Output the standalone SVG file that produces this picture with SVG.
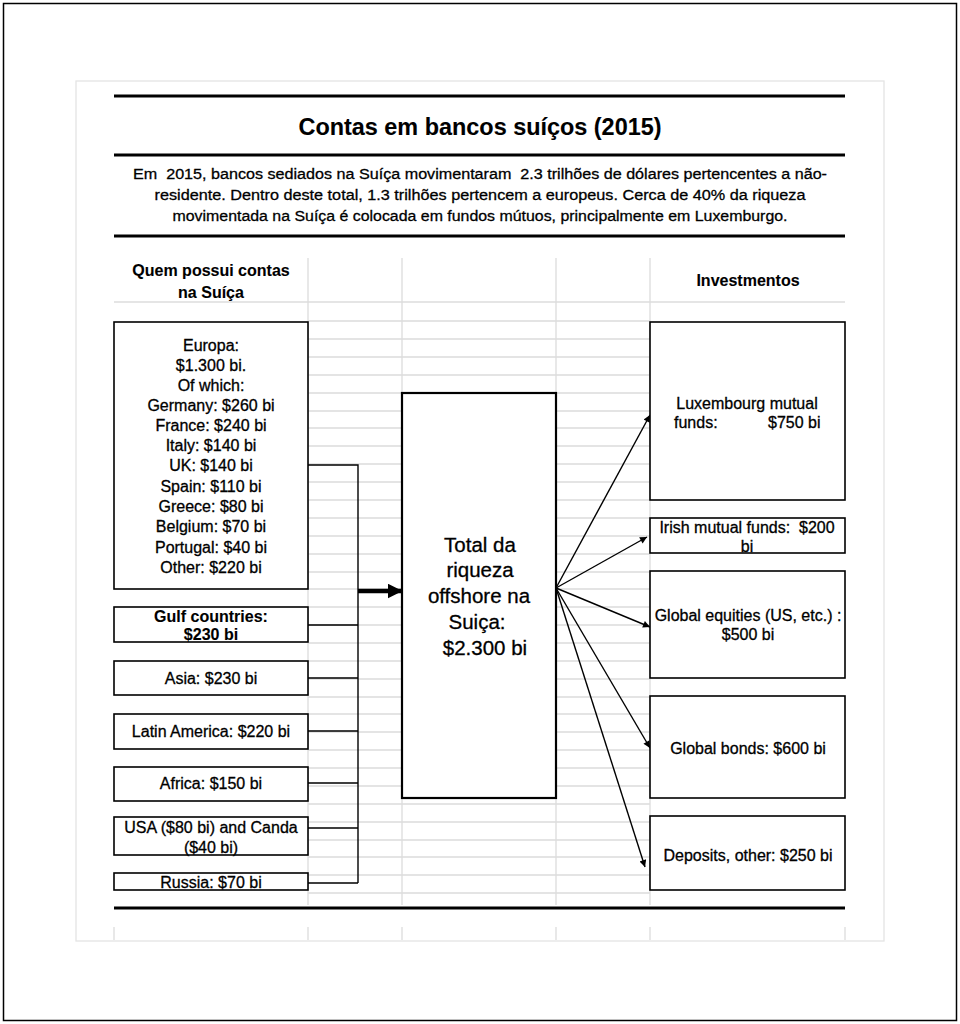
<svg xmlns="http://www.w3.org/2000/svg" width="960" height="1024" viewBox="0 0 960 1024">
<style>
  text { font-family: "Liberation Sans", Arial, sans-serif; fill: #000; stroke: #000; stroke-width: 0.3; white-space: pre; }
  .t { font-size: 16px; text-anchor: middle; }
  .b { font-weight: bold; stroke-width: 0.1; }
  .box { fill: #fff; stroke: #000; stroke-width: 1.6; }
  .grid { stroke: #dcdcdc; stroke-width: 1.3; fill: none; }
  .rule { stroke: #000; stroke-width: 3; }
  .conn { stroke: #000; stroke-width: 1.4; fill: none; }
</style>
<defs>
  <marker id="ah" viewBox="0 0 10 10" refX="10" refY="5" markerWidth="9" markerHeight="7" markerUnits="userSpaceOnUse" orient="auto">
    <path d="M0,0 L10,5 L0,10 z" fill="#000"/>
  </marker>
  <marker id="ahBig" viewBox="0 0 10 10" refX="9" refY="5" markerWidth="15" markerHeight="15" markerUnits="userSpaceOnUse" orient="auto">
    <path d="M0,0 L10,5 L0,10 z" fill="#000"/>
  </marker>
</defs>
<rect x="0" y="0" width="960" height="1024" fill="#fff"/>
<rect x="3.5" y="3.5" width="953" height="1017" fill="none" stroke="#000" stroke-width="1.5"/>
<rect x="76" y="81" width="808" height="860" fill="none" stroke="#e4e4e4" stroke-width="1.3"/>

<!-- spreadsheet grid -->
<g id="grid">
  <line class="grid" x1="114" y1="302" x2="845" y2="302"/>
  <path class="grid" d="M308,258 V905 M402,258 V905 M556,258 V905 M650,258 V905"/>
  <path class="grid" d="M114,927 V940 M308,927 V940 M402,927 V940 M556,927 V940 M650,927 V940 M845,927 V940"/>
  <path class="grid" d="M308,321 H650 M308,339 H650 M308,357 H650 M308,375 H650 M308,393 H650 M308,411 H650 M308,428 H650 M308,446 H650 M308,464 H650 M308,482 H650 M308,500 H650 M308,518 H650 M308,536 H650 M308,554 H650 M308,572 H650 M308,589 H650 M308,607 H650 M308,625 H650 M308,643 H650 M308,661 H650 M308,679 H650 M308,697 H650 M308,714 H650 M308,732 H650 M308,750 H650 M308,768 H650 M308,786 H650 M308,804 H650 M308,822 H650 M308,840 H650 M308,857 H650 M308,875 H650 M308,893 H650"/>
</g>

<!-- header -->
<g id="header">
  <line class="rule" x1="114" y1="96" x2="845" y2="96"/>
  <text x="480" y="135" class="b" font-size="23" text-anchor="middle" textLength="363" lengthAdjust="spacingAndGlyphs">Contas em bancos suíços (2015)</text>
  <line class="rule" x1="114" y1="155" x2="845" y2="155"/>
  <text x="480" y="179" font-size="15.5" text-anchor="middle" textLength="694" lengthAdjust="spacingAndGlyphs">Em  2015, bancos sediados na Suíça movimentaram  2.3 trilhões de dólares pertencentes a não-</text>
  <text x="480" y="200" font-size="15.5" text-anchor="middle" textLength="651" lengthAdjust="spacingAndGlyphs">residente. Dentro deste total, 1.3 trilhões pertencem a europeus. Cerca de 40% da riqueza</text>
  <text x="480" y="221" font-size="15.5" text-anchor="middle" textLength="615" lengthAdjust="spacingAndGlyphs">movimentada na Suíça é colocada em fundos mútuos, principalmente em Luxemburgo.</text>
  <line class="rule" x1="114" y1="236" x2="845" y2="236"/>
  <text class="t b" x="211" y="276">Quem possui contas</text>
  <text class="t b" x="211" y="298">na Suíça</text>
  <text class="t b" x="748" y="286">Investmentos</text>
  <line class="rule" x1="114" y1="908" x2="845" y2="908"/>
</g>

<!-- connectors -->
<g id="connectors">
  <path class="conn" d="M308,465 H358 V883 M308,625 H358 M308,678 H358 M308,731 H358 M308,783 H358 M308,828 H358 M308,883 H358"/>
  <line x1="358" y1="591" x2="401" y2="591" stroke="#000" stroke-width="4.5" marker-end="url(#ahBig)"/>
  <line class="conn" x1="556" y1="588" x2="650" y2="415" marker-end="url(#ah)"/>
  <line class="conn" x1="556" y1="588" x2="647" y2="537" marker-end="url(#ah)"/>
  <line class="conn" x1="556" y1="588" x2="650" y2="627" marker-end="url(#ah)"/>
  <line class="conn" x1="556" y1="588" x2="650" y2="748" marker-end="url(#ah)"/>
  <line class="conn" x1="556" y1="588" x2="645" y2="867" marker-end="url(#ah)"/>
</g>

<!-- left nodes -->
<g id="europa">
  <rect class="box" x="114" y="322" width="194" height="267"/>
  <text class="t" x="211" y="351">Europa:</text>
  <text class="t" x="211" y="371">$1.300 bi.</text>
  <text class="t" x="211" y="391">Of which:</text>
  <text class="t" x="211" y="411">Germany: $260 bi</text>
  <text class="t" x="211" y="431">France: $240 bi</text>
  <text class="t" x="211" y="451">Italy: $140 bi</text>
  <text class="t" x="211" y="471">UK: $140 bi</text>
  <text class="t" x="211" y="492">Spain: $110 bi</text>
  <text class="t" x="211" y="512">Greece: $80 bi</text>
  <text class="t" x="211" y="532">Belgium: $70 bi</text>
  <text class="t" x="211" y="553">Portugal: $40 bi</text>
  <text class="t" x="211" y="573">Other: $220 bi</text>
</g>
<g id="gulf">
  <rect class="box" x="114" y="607" width="194" height="35"/>
  <text class="t b" x="211" y="622">Gulf countries:</text>
  <text class="t b" x="211" y="640">$230 bi</text>
</g>
<g id="asia">
  <rect class="box" x="114" y="661" width="194" height="34"/>
  <text class="t" x="211" y="684">Asia: $230 bi</text>
</g>
<g id="latam">
  <rect class="box" x="114" y="714" width="194" height="35"/>
  <text class="t" x="211" y="737">Latin America: $220 bi</text>
</g>
<g id="africa">
  <rect class="box" x="114" y="767" width="194" height="34"/>
  <text class="t" x="211" y="789">Africa: $150 bi</text>
</g>
<g id="usa">
  <rect class="box" x="114" y="817" width="194" height="38"/>
  <text class="t" x="211" y="833">USA ($80 bi) and Canda</text>
  <text class="t" x="211" y="853">($40 bi)</text>
</g>
<g id="russia">
  <rect class="box" x="114" y="873" width="194" height="17"/>
  <text class="t" x="211" y="888">Russia: $70 bi</text>
</g>

<!-- center node -->
<g id="total">
  <rect x="402" y="393" width="154" height="405" fill="#fff" stroke="#000" stroke-width="2.2"/>
  <text x="480" y="552" font-size="20.5" text-anchor="middle">Total da</text>
  <text x="480" y="577" font-size="20.5" text-anchor="middle">riqueza</text>
  <text x="479" y="603" font-size="20.5" text-anchor="middle">offshore na</text>
  <text x="477" y="629" font-size="20.5" text-anchor="middle">Suiça:</text>
  <text x="485" y="655" font-size="20.5" text-anchor="middle">$2.300 bi</text>
</g>

<!-- right nodes -->
<g id="luxembourg">
  <rect class="box" x="650" y="322" width="195" height="178"/>
  <text class="t" x="747" y="409">Luxembourg mutual</text>
  <text font-size="16" y="428"><tspan x="674">funds:</tspan><tspan x="768">$750 bi</tspan></text>
</g>
<g id="irish">
  <rect class="box" x="650" y="518" width="195" height="35"/>
  <text class="t" x="747" y="533">Irish mutual funds:  $200</text>
  <text class="t" x="747" y="552">bi</text>
</g>
<g id="equities">
  <rect class="box" x="650" y="571" width="195" height="107"/>
  <text class="t" x="748" y="621">Global equities (US, etc.) :</text>
  <text class="t" x="748" y="640">$500 bi</text>
</g>
<g id="bonds">
  <rect class="box" x="650" y="696" width="195" height="102"/>
  <text class="t" x="748" y="754">Global bonds: $600 bi</text>
</g>
<g id="deposits">
  <rect class="box" x="650" y="816" width="195" height="74"/>
  <text class="t" x="748" y="861">Deposits, other: $250 bi</text>
</g>
</svg>
